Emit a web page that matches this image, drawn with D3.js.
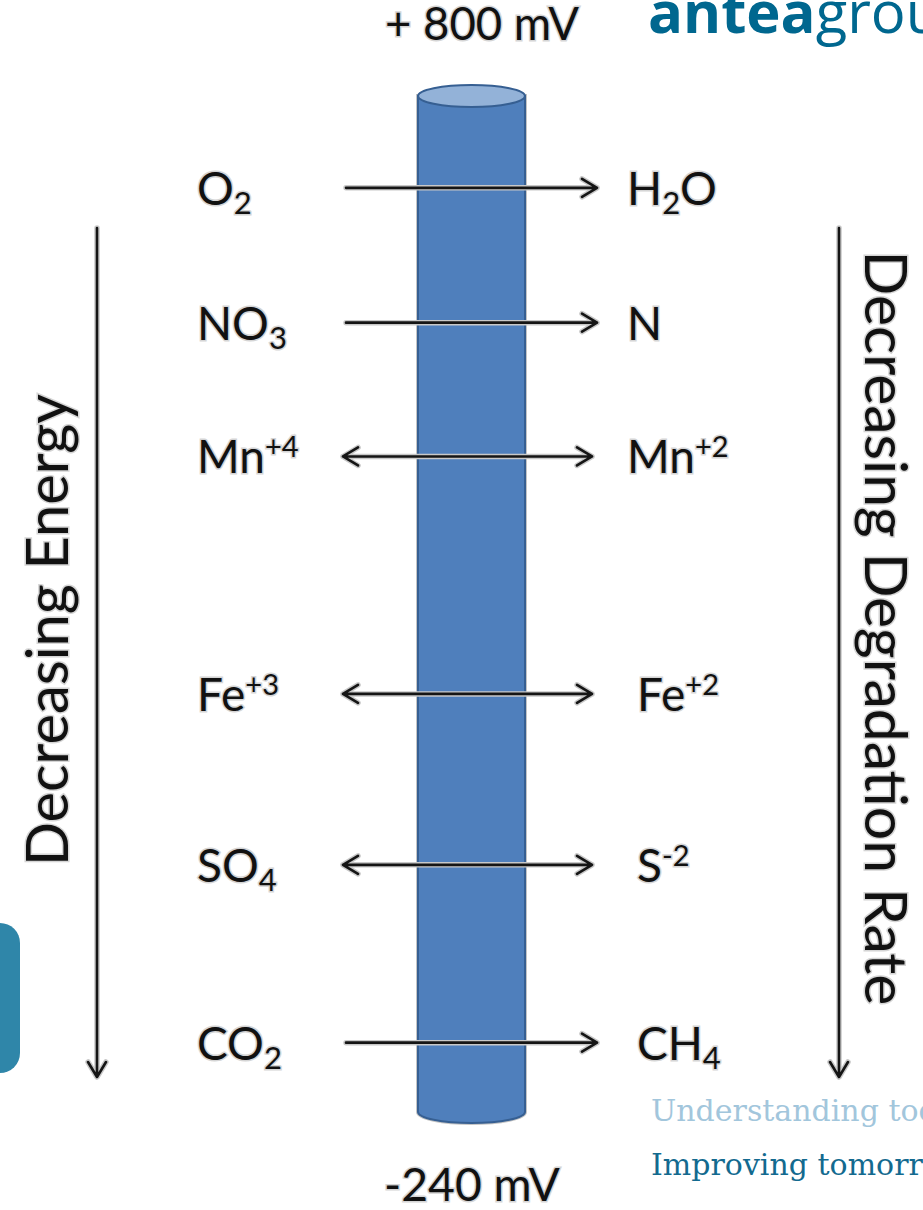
<!DOCTYPE html>
<html>
<head>
<meta charset="utf-8">
<script src="https://cdn.jsdelivr.net/npm/d3@7"></script>
<style>
  html, body { margin: 0; padding: 0; background: #fff; overflow: hidden; }
  svg { display: block; }
</style>
</head>
<body>
<div id="chart"></div>
<script>
// ---------- data ----------
const scaleEnds = [800, -240];                       // mV, top and bottom of the column
const scaleLabels = ["+ 800 mV", "-240 mV"];
const potentials = [706, 568, 431, 188, 13, -169];   // estimated redox level of each couple (mV)
const oxidized = ["O_2", "NO_3", "Mn^+4", "Fe^+3", "SO_4", "CO_2"];
const reduced  = ["H_2O", "N", "Mn^+2", "Fe^+2", "S^-2", "CH_4"];
const arrowKinds = ["one", "one", "two", "two", "two", "one"];
const sideTitles = ["Decreasing Energy", "Decreasing Degradation Rate"];
const logoParts = ["antea", "group"];
const taglines = ["Understanding today.", "Improving tomorrow."];

// ---------- layout ----------
const W = 923, H = 1210;
const svg = d3.select("#chart").append("svg").attr("width", W).attr("height", H);
const FONT = "Lato, 'Noto Sans', sans-serif";

const y = d3.scaleLinear().domain(scaleEnds).range([96, 1112]);
const colX = d3.scaleLinear().domain([0, 1]).range([418, 525]);
const rightIndent = [0, 0, 0, 10, 10, 10];

// ---------- teal tab ----------
svg.append("rect").attr("x", -30).attr("y", 923).attr("width", 50).attr("height", 150)
  .attr("rx", 20).attr("fill", "#2f86a9");

// ---------- cylinder ----------
const cx = colX(0.5), rx = (colX(1) - colX(0)) / 2, ry = 11;
const yTop = y(scaleEnds[0]), yBot = y(scaleEnds[1]);
const bodyD = `M${colX(0)},${yTop} L${colX(0)},${yBot} A${rx},${ry} 0 0 0 ${colX(1)},${yBot} L${colX(1)},${yTop} Z`;
svg.append("path").attr("d", bodyD)
  .attr("fill", "#4f7fbc").attr("stroke", "#c4c4c4").attr("stroke-width", 4);
svg.append("path").attr("d", bodyD)
  .attr("fill", "#4f7fbc").attr("stroke", "#365f92").attr("stroke-width", 2);
svg.append("ellipse").attr("cx", cx).attr("cy", yTop).attr("rx", rx).attr("ry", ry)
  .attr("fill", "#93b2d8").attr("stroke", "#365f92").attr("stroke-width", 2);

// ---------- helpers ----------
function fitText(sel, target) {
  const n = sel.node(); const w = n.getComputedTextLength();
  const fs = parseFloat(sel.attr("font-size"));
  if (w > 0) sel.attr("font-size", fs * target / w);
}
function halo(sel) {
  return sel.attr("stroke", "#d5d5d5").attr("stroke-width", 3).attr("paint-order", "stroke");
}

// ---------- scale labels ----------
const topLbl = halo(svg.append("text").attr("x", 482).attr("y", 40).attr("text-anchor", "middle")
  .attr("font-family", FONT).attr("font-size", 42).attr("fill", "#111"))
  .text(scaleLabels[0]);
fitText(topLbl, 194);
const botLbl = halo(svg.append("text").attr("x", 472).attr("y", 1201).attr("text-anchor", "middle")
  .attr("font-family", FONT).attr("font-size", 42).attr("fill", "#111"))
  .text(scaleLabels[1]);
fitText(botLbl, 176);

// ---------- arrows ----------
function head(x, yy, dir) { // dir +1 right, -1 left
  return `M${x - dir * 15},${yy - 9} L${x},${yy} L${x - dir * 15},${yy + 9}`;
}
const rows = potentials.map((p, i) => ({ p, ox: oxidized[i], red: reduced[i], kind: arrowKinds[i], i }));
const arrows = svg.append("g");
rows.forEach(r => {
  const yy = y(r.p);
  const x1 = r.kind === "two" ? 343 : 346, x2 = r.kind === "two" ? 592 : 597;
  let d = `M${x1},${yy} L${x2},${yy} ` + head(x2, yy, 1);
  if (r.kind === "two") d += " " + head(x1, yy, -1);
  arrows.append("path").attr("d", d).attr("fill", "none").attr("stroke", "#c8c8c8")
    .attr("stroke-width", 5.5).attr("stroke-linecap", "round").attr("stroke-linejoin", "round");
  arrows.append("path").attr("d", d).attr("fill", "none").attr("stroke", "#151515")
    .attr("stroke-width", 2.6).attr("stroke-linecap", "round").attr("stroke-linejoin", "round");
});

// ---------- chemistry labels ----------
function parseChem(s) {
  const out = []; let i = 0;
  while (i < s.length) {
    if (s[i] === "_") { let j = i + 1; while (j < s.length && !/[A-Z_^]/.test(s[j])) j++; out.push({ t: s.slice(i + 1, j), k: "sub" }); i = j; }
    else if (s[i] === "^") { out.push({ t: s.slice(i + 1), k: "sup" }); i = s.length; }
    else { let j = i; while (j < s.length && s[j] !== "_" && s[j] !== "^") j++; out.push({ t: s.slice(i, j), k: "n" }); i = j; }
  }
  return out;
}
function chemLabel(x, yy, str) {
  const t = halo(svg.append("text").attr("x", x).attr("y", yy + 17)
    .attr("font-family", FONT).attr("font-size", 46).attr("fill", "#111"));
  let shift = 0;
  parseChem(str).forEach(seg => {
    const target = seg.k === "sub" ? 9 : seg.k === "sup" ? -16 : 0;
    t.append("tspan").attr("dy", target - shift)
      .attr("font-size", seg.k === "n" ? 46 : seg.k === "sub" ? 31 : 29).text(seg.t);
    shift = target;
  });
}
rows.forEach(r => {
  chemLabel(197, y(r.p), r.ox);
  chemLabel(627 + rightIndent[r.i], y(r.p), r.red);
});

// ---------- side arrows and titles ----------
[97, 839].forEach(x => {
  const d = `M${x},228 L${x},1076 ` + `M${x - 9},1062 L${x},1077 L${x + 9},1062`;
  svg.append("path").attr("d", d).attr("fill", "none").attr("stroke", "#c8c8c8")
    .attr("stroke-width", 5.5).attr("stroke-linecap", "round").attr("stroke-linejoin", "round");
  svg.append("path").attr("d", d).attr("fill", "none").attr("stroke", "#151515")
    .attr("stroke-width", 2.6).attr("stroke-linecap", "round").attr("stroke-linejoin", "round");
});
const leftT = halo(svg.append("text").attr("transform", "translate(68,630) rotate(-90)")
  .attr("text-anchor", "middle").attr("font-family", FONT).attr("font-size", 56).attr("fill", "#111"))
  .text(sideTitles[0]);
fitText(leftT, 472);
const rightT = halo(svg.append("text").attr("transform", "translate(865,628) rotate(90)")
  .attr("text-anchor", "middle").attr("font-family", FONT).attr("font-size", 56).attr("fill", "#111"))
  .text(sideTitles[1]);
fitText(rightT, 755);

// ---------- logo ----------
const logo = svg.append("text").attr("x", 648).attr("y", 33)
  .attr("font-family", "'Open Sans', sans-serif").attr("font-size", 58).attr("fill", "#00678f");
logo.append("tspan").attr("font-weight", 700).text(logoParts[0]);
logo.append("tspan").attr("font-weight", 400).text(logoParts[1]);

// ---------- tagline ----------
svg.append("text").attr("x", 651).attr("y", 1121)
  .attr("font-family", "'DejaVu Serif', serif").attr("font-size", 30).attr("fill", "#a2c6dc")
  .text(taglines[0]);
svg.append("text").attr("x", 651).attr("y", 1175)
  .attr("font-family", "'DejaVu Serif', serif").attr("font-size", 30).attr("fill", "#136a8f")
  .text(taglines[1]);
</script>
</body>
</html>
